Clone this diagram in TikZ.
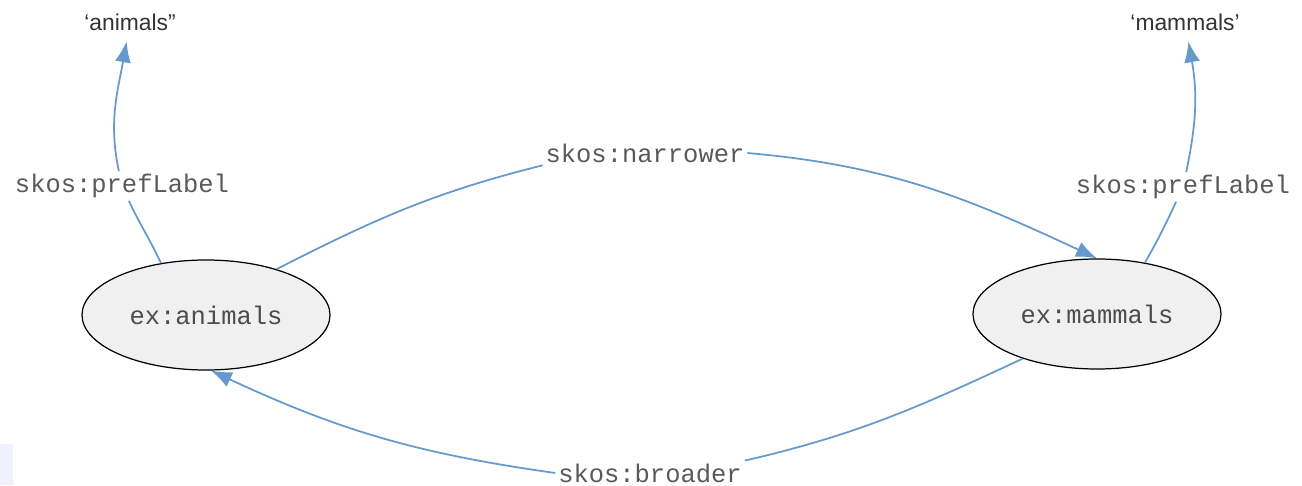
\documentclass[tikz,border=0pt]{standalone}
\usepackage{fontspec}
\setmainfont{Liberation Sans}
\setmonofont{Liberation Mono}
\usepackage{tikz}
\usetikzlibrary{arrows.meta,shapes.geometric,positioning}
\definecolor{linkblue}{RGB}{102,153,204}
\definecolor{nodegray}{RGB}{240,240,240}
\tikzset{>={Latex[length=4.2mm,width=3.2mm]}}
\tikzset{concept/.style={ellipse, draw=black, line width=0.7pt, fill=nodegray, minimum width=4.96cm, minimum height=2.2cm, inner sep=0pt, font=\fontsize{14.5}{17}\selectfont\ttfamily, text=black!70},
  rel/.style={inner sep=1.5pt, font=\fontsize{14.5}{17}\selectfont\ttfamily, text=black!65},
  lit/.style={inner sep=6pt, font=\fontsize{13}{15}\selectfont, text=black!80},
  link/.style={draw=linkblue, line width=1pt}}

\begin{document}
\begin{tikzpicture}
\useasboundingbox (0,0) rectangle (26.04,9.7);
\fill[blue!6] (0,0) rectangle (0.26,0.82);
% concepts
\node[concept] (animals) at (4.12,3.40) {ex:animals};
\node[concept] (mammals) at (21.94,3.42) {ex:mammals};
% literals
\node[lit] (litA) at (2.6,9.26) {‘animals”};
\node[lit] (litM) at (23.7,9.26) {‘mammals’};
% edge labels
\node[rel] (prefA) at (2.44,5.98) {skos:prefLabel};
\node[rel] (prefM) at (23.66,5.96) {skos:prefLabel};
\node[rel] (narrower) at (12.9,6.64) {skos:narrower};
\node[rel] (broader) at (13.0,0.24) {skos:broader};
\draw[link] (animals.131) to[out=115,in=-65] (prefA);
\draw[link,->] (prefA) to[out=102,in=-100] (litA);
\draw[link] (mammals.47) to[out=60,in=-115] (prefM);
\draw[link,->] (prefM) to[out=78,in=-80] (litM);
\draw[link] (animals.33) to[out=27,in=-166] (narrower.south west);
\draw[link,->] (narrower.east) to[out=-5,in=155] (mammals.north);
\draw[link] (mammals.211) to[out=205,in=13] (broader.north east);
\draw[link,->] (broader.west) to[out=172,in=-25] (animals.-85);
\end{tikzpicture}
\end{document}
